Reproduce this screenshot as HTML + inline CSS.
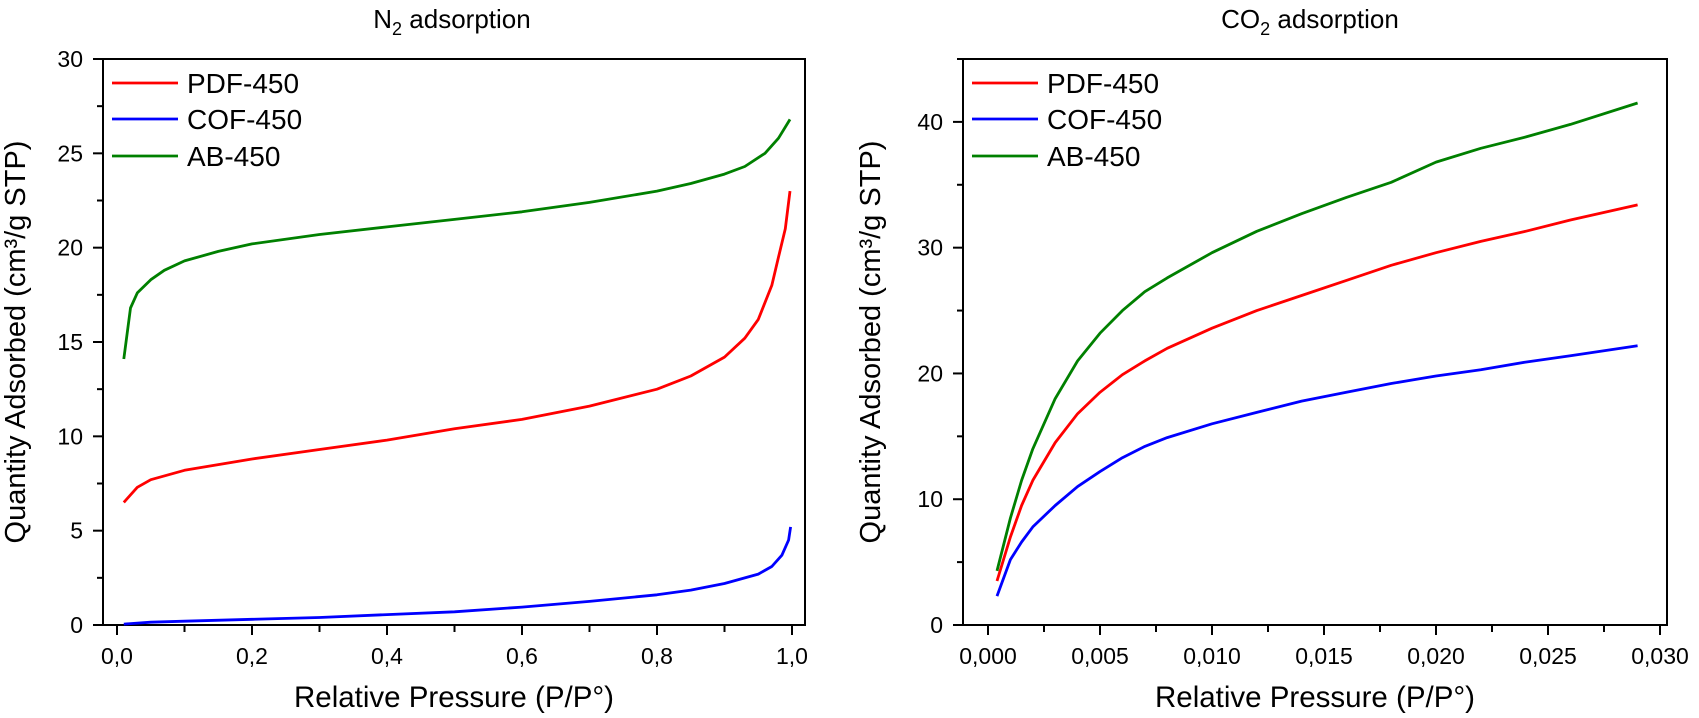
<!DOCTYPE html>
<html><head><meta charset="utf-8">
<style>
html,body{margin:0;padding:0;background:#fff;}
svg{display:block;font-family:"Liberation Sans",Arial,sans-serif;}
</style></head>
<body>
<svg id="chart" width="1699" height="718" viewBox="0 0 1699 718" xmlns="http://www.w3.org/2000/svg"></svg>
<script>
// ---- N2 data ----
const n2Pdf_x=[0.01,0.03,0.05,0.1,0.2,0.3,0.4,0.5,0.6,0.7,0.8,0.85,0.9,0.93,0.95,0.97,0.98,0.99,0.997];
const n2Pdf_y=[6.5,7.3,7.7,8.2,8.8,9.3,9.8,10.4,10.9,11.6,12.5,13.2,14.2,15.2,16.2,18,19.5,21,23];
const n2Ab_x=[0.01,0.02,0.03,0.05,0.07,0.1,0.15,0.2,0.3,0.4,0.5,0.6,0.7,0.8,0.85,0.9,0.93,0.96,0.98,0.997];
const n2Ab_y=[14.1,16.8,17.6,18.3,18.8,19.3,19.8,20.2,20.7,21.1,21.5,21.9,22.4,23.0,23.4,23.9,24.3,25.0,25.8,26.8];
const n2Cof_x=[0.01,0.05,0.1,0.2,0.3,0.4,0.5,0.6,0.7,0.8,0.85,0.9,0.95,0.97,0.985,0.995,0.998];
const n2Cof_y=[0.05,0.15,0.2,0.3,0.4,0.55,0.7,0.95,1.25,1.6,1.85,2.2,2.7,3.1,3.7,4.5,5.2];
const n2XTicks=["0,0","0,2","0,4","0,6","0,8","1,0"];
const n2YTicks=["0","5","10","15","20","25","30"];
// ---- CO2 data ----
const co2X=[0.0004,0.001,0.0015,0.002,0.003,0.004,0.005,0.006,0.007,0.008,0.010,0.012,0.014,0.016,0.018,0.020,0.022,0.024,0.026,0.029];
const co2Ab_y=[4.3,8.5,11.5,14,18,21,23.2,25,26.5,27.6,29.6,31.3,32.7,34,35.2,36.8,37.9,38.8,39.8,41.5];
const co2Pdf_y=[3.5,7,9.5,11.5,14.5,16.8,18.5,19.9,21,22,23.6,25,26.2,27.4,28.6,29.6,30.5,31.3,32.2,33.4];
const co2Cof_y=[2.3,5.2,6.6,7.8,9.5,11,12.2,13.3,14.2,14.9,16,16.9,17.8,18.5,19.2,19.8,20.3,20.9,21.4,22.2];
const co2XTicks=["0,000","0,005","0,010","0,015","0,020","0,025","0,030"];
const co2YTicks=["0","10","20","30","40"];

const NS="http://www.w3.org/2000/svg";
const svg=document.getElementById('chart');
function mk(t,a,p){const e=document.createElementNS(NS,t);for(const k in a)e.setAttribute(k,a[k]);(p||svg).appendChild(e);return e;}

function panel(cfg){
  const g=mk('g',{});
  
  
  const X=v=>cfg.x0+(v-cfg.xmin)/(cfg.xmax-cfg.xmin)*cfg.xw;
  const Y=v=>cfg.yb-(v/cfg.ymax)*(cfg.yb-cfg.top);
  const fr=mk('rect',{x:cfg.left,y:cfg.top,width:cfg.right-cfg.left,height:cfg.yb-cfg.top,fill:'none',stroke:'#000','stroke-width':2},g);
  
  cfg.yTicks.forEach((t,i)=>{
    const v=i*cfg.yStep,y=Y(v);
    mk('line',{x1:cfg.left-10,x2:cfg.left,y1:y,y2:y,stroke:'#000','stroke-width':2},g);
    const tx=mk('text',{x:cfg.left-20,y:y+8,'text-anchor':'end','font-size':23},g);
    tx.textContent=t;
    
    const mv=v+cfg.yStep/2;
    if(mv<=cfg.ymax){const my=Y(mv);mk('line',{x1:cfg.left-6,x2:cfg.left,y1:my,y2:my,stroke:'#000','stroke-width':2},g);}
  });
  const xs=(cfg.xmax-cfg.xmin)/(cfg.xTicks.length-1);
  cfg.xTicks.forEach((t,i)=>{
    const v=cfg.xmin+i*xs,x=X(v);
    mk('line',{x1:x,x2:x,y1:cfg.yb,y2:cfg.yb+10,stroke:'#000','stroke-width':2},g);
    const tx=mk('text',{x:x,y:cfg.yb+39,'text-anchor':'middle','font-size':23},g);
    tx.textContent=t;
    
    if(i<cfg.xTicks.length-1){const mx=X(v+xs/2);mk('line',{x1:mx,x2:mx,y1:cfg.yb,y2:cfg.yb+7,stroke:'#000','stroke-width':2},g);}
  });
  cfg.series.forEach(s=>{
    const d=s.x.map((xv,i)=>(i?'L':'M')+X(xv).toFixed(1)+' '+Y(s.y[i]).toFixed(1)).join(' ');
    const p=mk('path',{d:d,fill:'none',stroke:s.color,'stroke-width':2.8,'stroke-linejoin':'round'},g);
    
  });
  cfg.series.forEach((s,i)=>{
    const ly=[83,119,156][i];
    const lg=mk('g',{},g);
    
    mk('line',{x1:cfg.left+9,x2:cfg.left+75,y1:ly,y2:ly,stroke:s.color,'stroke-width':2.8},lg);
    const t=mk('text',{x:cfg.left+84,y:ly+10,'font-size':28},lg);t.textContent=s.label;
  });
  const tt=mk('text',{x:cfg.tcx,y:28,'text-anchor':'middle','font-size':26},g);
  tt.innerHTML=cfg.title;
  
  const xt=mk('text',{x:(cfg.left+cfg.right)/2,y:707,'text-anchor':'middle','font-size':29.5},g);
  xt.textContent='Relative Pressure (P/P°)';
  
  const cy=(cfg.top+cfg.yb)/2;
  const yt=mk('text',{x:cfg.ytx,y:cy,'text-anchor':'middle','font-size':29,transform:`rotate(-90 ${cfg.ytx} ${cy})`},g);
  yt.textContent='Quantity Adsorbed (cm³/g STP)';
  
}

panel({name:'n2-panel',left:103,right:805,top:59,yb:625,x0:117,xw:675,xmin:0,xmax:1,ymax:30,yStep:5,
  xTicks:n2XTicks,yTicks:n2YTicks,ytx:25,tcx:452,
  title:'N<tspan font-size="18" dy="7">2</tspan><tspan dy="-7"> adsorption</tspan>',
  series:[{id:'pdf-450-line',label:'PDF-450',color:'#ff0000',x:n2Pdf_x,y:n2Pdf_y},
          {id:'cof-450-line',label:'COF-450',color:'#0000ff',x:n2Cof_x,y:n2Cof_y},
          {id:'ab-450-line',label:'AB-450',color:'#008000',x:n2Ab_x,y:n2Ab_y}]});
panel({name:'co2-panel',left:963,right:1667,top:59,yb:625,x0:988,xw:672,xmin:0,xmax:0.03,ymax:45,yStep:10,
  xTicks:co2XTicks,yTicks:co2YTicks,ytx:880,tcx:1310,
  title:'CO<tspan font-size="18" dy="7">2</tspan><tspan dy="-7"> adsorption</tspan>',
  series:[{id:'pdf-450-line',label:'PDF-450',color:'#ff0000',x:co2X,y:co2Pdf_y},
          {id:'cof-450-line',label:'COF-450',color:'#0000ff',x:co2X,y:co2Cof_y},
          {id:'ab-450-line',label:'AB-450',color:'#008000',x:co2X,y:co2Ab_y}]});
</script>
</body></html>
